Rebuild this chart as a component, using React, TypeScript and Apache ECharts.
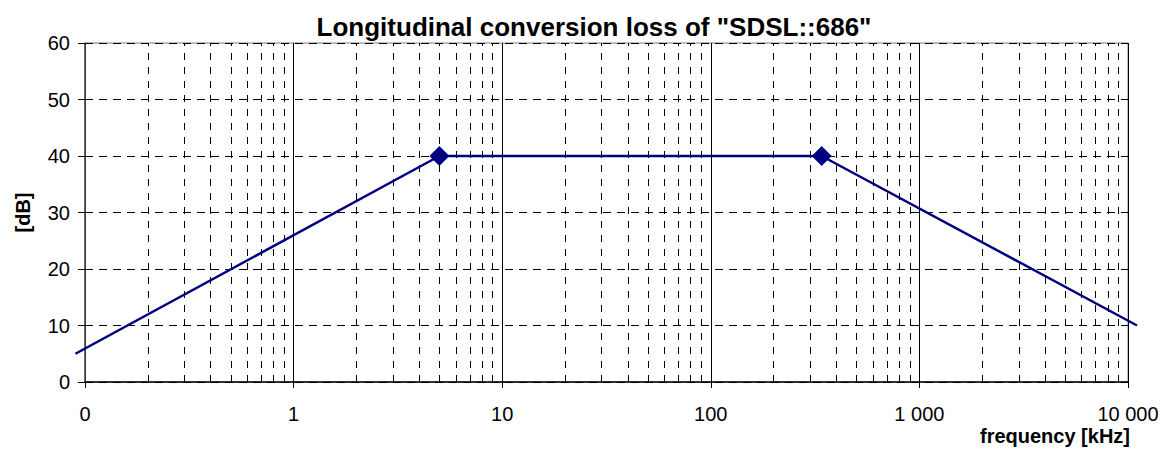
import React, { useEffect, useRef } from "react";
import * as echarts from "echarts";

const titleText = 'Longitudinal conversion loss of "SDSL::686"';
const xAxisTitle = "frequency [kHz]";
const yAxisTitle = "[dB]";

const frequencyKHz = [0.09, 5, 340, 11050];
const lossDB = [5, 40, 40, 10];
const markerShown = [false, true, true, false];

const xTickValues = [0.1, 1, 10, 100, 1000, 10000];
const xTickLabels = ["0", "1", "10", "100", "1 000", "10 000"];
const minorMultipliers = [2, 3, 4, 5, 6, 7, 8, 9];
const decadeStarts = [0.1, 1, 10, 100, 1000];

const FONT = "'Liberation Sans', Arial, sans-serif";

// plot area geometry
const GRID_LEFT = 85;
const GRID_RIGHT = 34;
const GRID_TOP = 43;
const GRID_BOTTOM = 68;
const CHART_W = 1162;
// a second, hidden grid extended by OVER decades on both sides so the curve may run past the frame
const OVER = 0.06;

export default function App() {
  const ref = useRef<HTMLDivElement>(null);
  useEffect(() => {
    if (!ref.current) return;
    const chart = echarts.init(ref.current, null, { renderer: "svg" });
    const decades = Math.log10(xTickValues[xTickValues.length - 1] / xTickValues[0]);
    const plotW = CHART_W - GRID_LEFT - GRID_RIGHT;
    const pxPerDecade = plotW / decades;
    const ext = OVER * pxPerDecade;
    const minorLines: any[] = [];
    decadeStarts.forEach((d) =>
      minorMultipliers.forEach((m) => minorLines.push({ xAxis: +(d * m).toPrecision(6) }))
    );
    chart.setOption({
      animation: false,
      backgroundColor: "#ffffff",
      textStyle: { fontFamily: FONT },
      title: {
        text: titleText,
        left: 589,
        top: 9,
        textAlign: "center",
        textStyle: { fontFamily: FONT, fontSize: 26, fontWeight: "bold", color: "#000" },
      },
      grid: [
        {
          left: GRID_LEFT,
          right: GRID_RIGHT,
          top: GRID_TOP,
          bottom: GRID_BOTTOM,
          show: true,
          borderColor: "#808080",
          borderWidth: 1,
        },
        {
          left: GRID_LEFT - ext,
          right: GRID_RIGHT - ext,
          top: GRID_TOP,
          bottom: GRID_BOTTOM,
          show: false,
        },
      ],
      xAxis: [
        {
          type: "log",
          logBase: 10,
          min: xTickValues[0],
          max: xTickValues[xTickValues.length - 1],
          gridIndex: 0,
          axisLine: { show: true, onZero: false, lineStyle: { color: "#000", width: 1.5 } },
          axisTick: { show: true, length: 6, lineStyle: { color: "#000" } },
          axisLabel: {
            fontFamily: FONT,
            fontSize: 20,
            color: "#000",
            margin: 22,
            formatter: (v: number) => {
              const i = xTickValues.findIndex(
                (t) => Math.abs(Math.log10(t) - Math.log10(v)) < 1e-6
              );
              return i >= 0 ? xTickLabels[i] : "";
            },
          },
          splitLine: { show: true, lineStyle: { color: "#000", width: 1, type: "solid" } },
        },
        {
          type: "log",
          logBase: 10,
          gridIndex: 1,
          min: xTickValues[0] / Math.pow(10, OVER),
          max: xTickValues[xTickValues.length - 1] * Math.pow(10, OVER),
          show: false,
          splitLine: { show: false },
        },
      ],
      yAxis: [
        {
          type: "value",
          gridIndex: 0,
          min: 0,
          max: 60,
          interval: 10,
          name: yAxisTitle,
          nameLocation: "middle",
          nameGap: 52,
          nameRotate: 90,
          nameTextStyle: { fontFamily: FONT, fontSize: 20, fontWeight: "bold", color: "#000" },
          axisLine: { show: true, lineStyle: { color: "#505050", width: 1.5 } },
          axisTick: { show: true, length: 7, lineStyle: { color: "#000" } },
          axisLabel: { fontFamily: FONT, fontSize: 20, color: "#000", margin: 15 },
          splitLine: { show: true, lineStyle: { color: "#000", width: 1, type: [8, 6] } },
        },
        {
          type: "value",
          gridIndex: 1,
          min: 0,
          max: 60,
          interval: 10,
          show: false,
          splitLine: { show: false },
        },
      ],
      graphic: [
        {
          type: "text",
          right: 32,
          top: 426,
          style: {
            text: xAxisTitle,
            fontFamily: FONT,
            fontSize: 20,
            fontWeight: "bold",
            fill: "#000",
          },
        },
      ],
      series: [
        {
          type: "line",
          xAxisIndex: 0,
          yAxisIndex: 0,
          data: [],
          z: 1,
          markLine: {
            silent: true,
            symbol: ["none", "none"],
            label: { show: false },
            lineStyle: { color: "#000", width: 1, type: [7, 7] },
            data: minorLines,
          },
        },
        {
          type: "line",
          xAxisIndex: 1,
          yAxisIndex: 1,
          z: 5,
          clip: false,
          data: frequencyKHz.map((f, i) => ({
            value: [f, lossDB[i]],
            symbol: markerShown[i] ? "diamond" : "none",
          })),
          symbolSize: 20,
          lineStyle: { color: "#000080", width: 2.5 },
          itemStyle: { color: "#000080" },
        },
      ],
    });
    return () => chart.dispose();
  }, []);
  return (
    <div
      ref={ref}
      style={{ position: "fixed", left: 0, top: 0, width: 1162, height: 450 }}
    />
  );
}
